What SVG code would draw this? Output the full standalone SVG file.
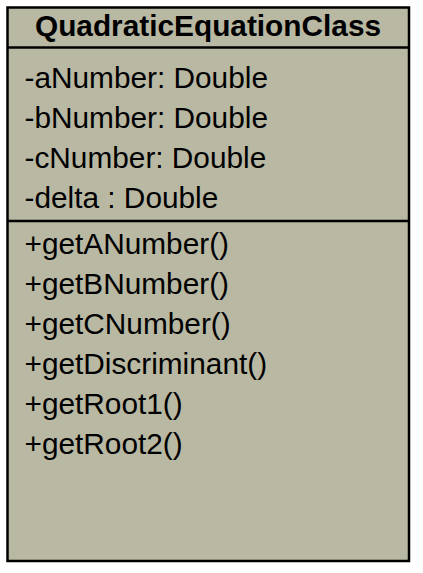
<svg xmlns="http://www.w3.org/2000/svg" width="423" height="573" viewBox="0 0 423 573">
  <style>
    .box { fill: #b8b8a3; stroke: #000; stroke-width: 2.5; }
    .sep { stroke: #000; stroke-width: 2.5; }
    .title { font-family: "Liberation Sans", Arial, sans-serif; font-size: 29.8px; font-weight: bold; fill: #000; }
    .member { font-family: "Liberation Sans", Arial, sans-serif; font-size: 29.8px; fill: #000; }
  </style>
  <rect width="423" height="573" fill="#fff"/>
  <g id="QuadraticEquationClass">
    <rect class="box" x="7.5" y="7.5" width="401.5" height="553.5"/>
    <line class="sep" x1="7.5" y1="47.5" x2="409" y2="47.5"/>
    <line class="sep" x1="7.5" y1="221" x2="409" y2="221"/>
    <text class="title" x="208" y="36" text-anchor="middle">QuadraticEquationClass</text>
    <text class="member" x="24.5" y="88">-aNumber: Double</text>
    <text class="member" x="24.5" y="128">-bNumber: Double</text>
    <text class="member" x="24.5" y="168">-cNumber: Double</text>
    <text class="member" x="24.5" y="208">-delta : Double</text>
    <text class="member" x="24.5" y="254">+getANumber()</text>
    <text class="member" x="24.5" y="294">+getBNumber()</text>
    <text class="member" x="24.5" y="334">+getCNumber()</text>
    <text class="member" x="24.5" y="374">+getDiscriminant()</text>
    <text class="member" x="24.5" y="414">+getRoot1()</text>
    <text class="member" x="24.5" y="454">+getRoot2()</text>
  </g>
</svg>
